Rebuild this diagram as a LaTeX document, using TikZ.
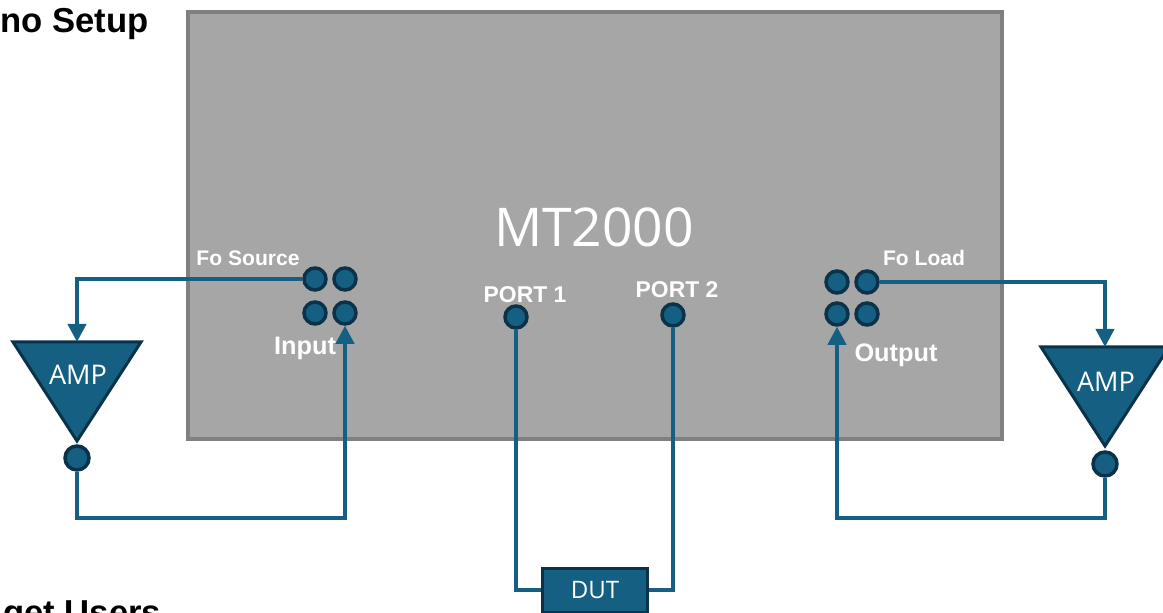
\documentclass[tikz,border=0pt]{standalone}
\usepackage{fontspec}
\usepackage{tikz}
\usetikzlibrary{arrows.meta,shapes.geometric,positioning}
\setmainfont{Liberation Sans}
\newfontfamily\titlefont{Open Sans}

\definecolor{wireblue}{HTML}{156082}
\definecolor{darkblue}{HTML}{0C3249}
\definecolor{panelgray}{HTML}{A6A6A6}
\definecolor{panelline}{HTML}{808080}

\tikzset{
  panel/.style={draw=panelline,line width=0.8mm,fill=panelgray,minimum width=162.8mm,minimum height=85.4mm,inner sep=0pt},
  port/.style={circle,draw=darkblue,line width=0.7mm,fill=wireblue,minimum size=4.4mm,inner sep=0pt},
  ampport/.style={port,minimum size=4.8mm},
  amp/.style={isosceles triangle,isosceles triangle stretches,shape border rotate=270,draw=darkblue,line width=0.6mm,fill=wireblue,
    minimum width=25.6mm,minimum height=19.8mm,inner sep=0pt,outer sep=0pt,anchor=apex},
  dutbox/.style={rectangle,draw=darkblue,line width=0.6mm,fill=wireblue,text=white,minimum width=21mm,minimum height=8.8mm,inner sep=0pt,
    font=\titlefont\fontsize{13.7}{15}\selectfont},
  wire/.style={draw=wireblue,line width=0.8mm},
  feed/.style={wire,-{Triangle[length=3.6mm,width=3.6mm]}},
  portlabel/.style={text=white,font=\bfseries\fontsize{12}{14}\selectfont,inner sep=0pt},
  sidelabel/.style={portlabel,font=\bfseries\fontsize{14.4}{16}\selectfont},
  numlabel/.style={portlabel,font=\bfseries\fontsize{13}{15}\selectfont},
  amptext/.style={text=white,font=\titlefont\fontsize{15.4}{17}\selectfont,inner sep=0pt},
  heading/.style={text=black,font=\bfseries\fontsize{19.7}{22}\selectfont,inner sep=0pt,anchor=base west}
}

\begin{document}
\begin{tikzpicture}[x=0.2mm,y=-0.2mm]
  \useasboundingbox (0,0) rectangle (1163,613);
  \clip (0,0) rectangle (1163,613);

  \node[heading] (demo)  at (0,33)  {no Setup};
  \node[heading] (users) at (3,624) {get Users};

  \node[panel] (mt2000) at (595,225.5) {};
  \node[text=white,inner sep=0pt,font=\titlefont\fontsize{30.4}{33}\selectfont] (mtname) at (594,227) {MT2000};

  % input side
  \node[port] (fosource) at (315,279) {};
  \node[port] (inb)      at (345,279) {};
  \node[port] (inc)      at (315,313) {};
  \node[port] (input)    at (345,313) {};
  \node[portlabel] (fosourcetext) at (248,258) {Fo Source};
  \node[sidelabel] (inputtext)    at (305,348) {Input};

  % output side
  \node[port] (outa)   at (837,282) {};
  \node[port] (foload) at (867,282) {};
  \node[port] (output) at (837,314) {};
  \node[port] (outd)   at (867,314) {};
  \node[portlabel] (foloadtext) at (924,258) {Fo Load};
  \node[sidelabel] (outputtext) at (896,355) {Output};

  % ports to the DUT
  \node[port] (port1) at (516,317) {};
  \node[port] (port2) at (673,315) {};
  \node[numlabel] (port1text) at (525,295) {PORT 1};
  \node[numlabel] (port2text) at (677,290) {PORT 2};
  \node[dutbox] (dut) at (595,590) {DUT};

  % amplifiers
  \node[amp] (ampl) at (77,441) {};
  \node[amp] (ampr) at (1105,446) {};
  \node[amptext] (ampltext) at (78,375) {AMP};
  \node[amptext] (amprtext) at (1106,382) {AMP};
  \node[ampport] (amplout) at (77,458) {};
  \node[ampport] (amprout) at (1105,464) {};

  \coordinate (lowl) at (200,518);
  \coordinate (lowr) at (1000,518);

  \draw[feed] (fosource) -| (ampl.north);
  \draw[feed] (foload) -| (ampr.north);
  \draw[feed] (amplout) |- (lowl) -| (input);
  \draw[feed] (amprout) |- (lowr) -| (output);
  \draw[wire] (port1) |- (dut);
  \draw[wire] (port2) |- (dut);
\end{tikzpicture}
\end{document}
